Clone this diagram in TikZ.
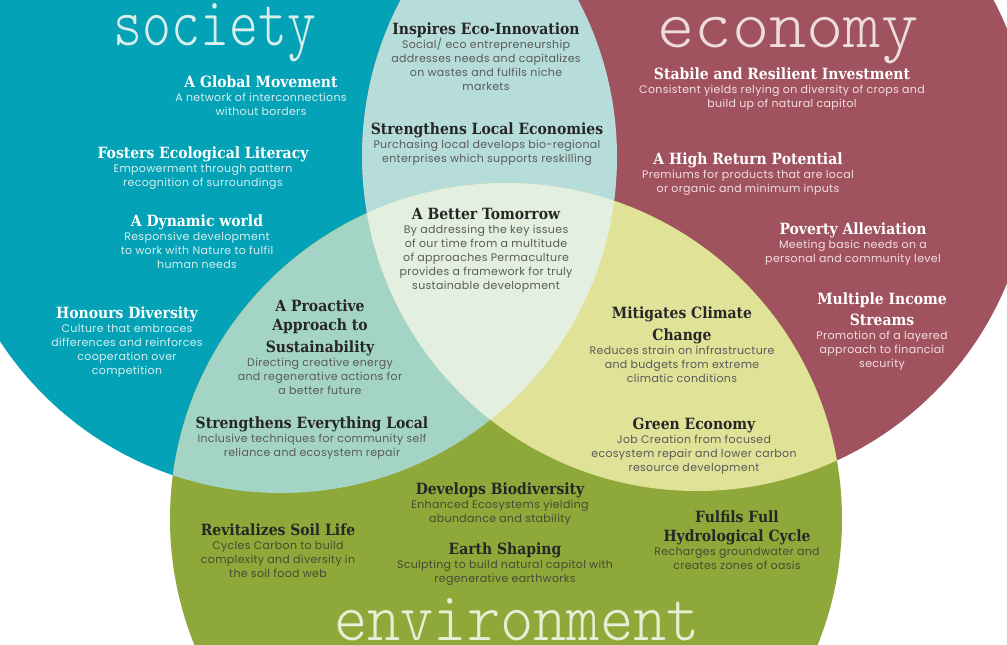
\documentclass[tikz,border=0pt]{standalone}
\usepackage{fontspec}
\setsansfont{Poppins}[LetterSpace=3]
\newfontfamily\headfam{DejaVu Serif Condensed}
\definecolor{socC}{HTML}{03A2B6}
\definecolor{ecoC}{HTML}{A0525E}
\definecolor{envC}{HTML}{8FA83A}
\definecolor{seC}{HTML}{B7DDDA}
\definecolor{snC}{HTML}{A4D4C5}
\definecolor{enC}{HTML}{E0E298}
\definecolor{cenC}{HTML}{E4F0DF}
\definecolor{socT}{HTML}{DAEEEC}
\definecolor{ecoT}{HTML}{ECDCDA}
\definecolor{envT}{HTML}{E8EED6}
\definecolor{bodyTeal}{HTML}{D6EFF1}
\definecolor{bodyEco}{HTML}{F2E0E0}
\definecolor{bodyLight}{HTML}{5A5A5A}
\definecolor{bodyEnv}{HTML}{454C33}
\definecolor{headDark}{HTML}{262626}
\newcommand\hfont{\headfam\bfseries\fontsize{15.5}{19}\selectfont}
\newcommand\bfnt{\sffamily\fontsize{11}{14}\selectfont}
\newcommand\hw[1]{{\hfont\color{white}#1}}
\newcommand\hk[1]{{\hfont\color{headDark}#1}}
\tikzset{
  blk/.style={align=center, inner sep=0pt, anchor=north, font=\bfnt},
  onsoc/.style={blk, text=bodyTeal},
  oneco/.style={blk, text=bodyEco},
  onlight/.style={blk, text=bodyLight},
  onenv/.style={blk, text=bodyEnv},
  title/.style={anchor=base, inner sep=0pt, font=\ttfamily\fontseries{l}\fontsize{69.6}{70}\selectfont}
}
\begin{document}
\begin{tikzpicture}[x=1pt,y=-1pt]
\useasboundingbox (0,0) rectangle (1007,645);
\begin{scope}
  \clip (0,0) rectangle (1007,645);
  \fill[socC] (281,157) circle[radius=336pt];
  \fill[ecoC] (697,156) circle[radius=335pt];
  \fill[envC] (506,519) circle[radius=336pt];
  \begin{scope}
    \clip (281,157) circle[radius=336pt];
    \fill[seC] (697,156) circle[radius=335pt];
  \end{scope}
  \begin{scope}
    \clip (281,157) circle[radius=336pt];
    \fill[snC] (506,519) circle[radius=336pt];
  \end{scope}
  \begin{scope}
    \clip (697,156) circle[radius=335pt];
    \fill[enC] (506,519) circle[radius=336pt];
  \end{scope}
  \begin{scope}
    \clip (281,157) circle[radius=336pt];
    \clip (697,156) circle[radius=335pt];
    \fill[cenC] (506,519) circle[radius=336pt];
  \end{scope}
\end{scope}
% titles
\node[title, text=socT] (tsoc) at (215,45) {\scalebox{0.79}[1]{society}};
\node[title, text=ecoT] (teco) at (788,47) {\scalebox{1.02}[1]{economy}};
\node[title, text=envT] (tenv) at (517,640) {\scalebox{0.91}[1]{environment}};
% society
\node[onsoc] (glob) at (261,75.5) {\hw{A Global Movement}\\A network of interconnections\\without borders};
\node[onsoc] (fost) at (203,146.5) {\hw{Fosters Ecological Literacy}\\Empowerment through pattern\\recognition of surroundings};
\node[onsoc] (dyn) at (197,214.5) {\hw{A Dynamic world}\\Responsive development\\to work with Nature to fulfil\\human needs};
\node[onsoc] (hon) at (127,306.5) {\hw{Honours Diversity}\\Culture that embraces\\differences and reinforces\\cooperation over\\competition};
% society and economy
\node[onlight] (insp) at (486,22.5) {\hk{Inspires Eco-Innovation}\\Social/ eco entrepreneurship\\addresses needs and capitalizes\\on wastes and fulfils niche\\markets};
\node[onlight] (slec) at (487,122.5) {\hk{Strengthens Local Economies}\\Purchasing local develops bio-regional\\enterprises which supports reskilling};
% centre
\node[onlight] (bett) at (486,207.5) {\hk{A Better Tomorrow}\\By addressing the key issues\\of our time from a multitude\\of approaches Permaculture\\provides a framework for truly\\sustainable development};
% society and environment
\node[onlight] (proa) at (320,299.5) {\hk{A Proactive}\\[5.5pt]\hk{Approach to}\\[5.5pt]\hk{Sustainability}\\Directing creative energy\\and regenerative actions for\\a better future};
\node[onlight] (sevl) at (312,416.5) {\hk{Strengthens Everything Local}\\Inclusive techniques for community self\\reliance and ecosystem repair};
% economy
\node[oneco] (stab) at (782,67.5) {\hw{Stabile and Resilient Investment}\\Consistent yields relying on diversity of crops and\\build up of natural capitol};
\node[oneco] (high) at (748,152.5) {\hw{A High Return Potential}\\Premiums for products that are local\\or organic and minimum inputs};
\node[oneco] (pove) at (853,222.5) {\hw{Poverty Alleviation}\\Meeting basic needs on a\\personal and community level};
\node[oneco] (mult) at (882,292.5) {\hw{Multiple Income}\\[5.5pt]\hw{Streams}\\Promotion of a layered\\approach to financial\\security};
% economy and environment
\node[onlight] (miti) at (682,306.5) {\hk{Mitigates Climate}\\[5.5pt]\hk{Change}\\Reduces strain on infrastructure\\and budgets from extreme\\climatic conditions};
\node[onlight] (gree) at (694,417.5) {\hk{Green Economy}\\Job Creation from focused\\ecosystem repair and lower carbon\\resource development};
% environment
\node[onenv] (deve) at (500,482.5) {\hk{Develops Biodiversity}\\Enhanced Ecosystems yielding\\abundance and stability};
\node[onenv] (eart) at (505,542.5) {\hk{Earth Shaping}\\Sculpting to build natural capitol with\\regenerative earthworks};
\node[onenv] (revi) at (278,523.5) {\hk{Revitalizes Soil Life}\\Cycles Carbon to build\\complexity and diversity in\\the soil food web};
\node[onenv] (fulf) at (737,510.5) {\hk{Fulfils Full}\\[5.5pt]\hk{Hydrological Cycle}\\Recharges groundwater and\\creates zones of oasis};
\end{tikzpicture}
\end{document}
